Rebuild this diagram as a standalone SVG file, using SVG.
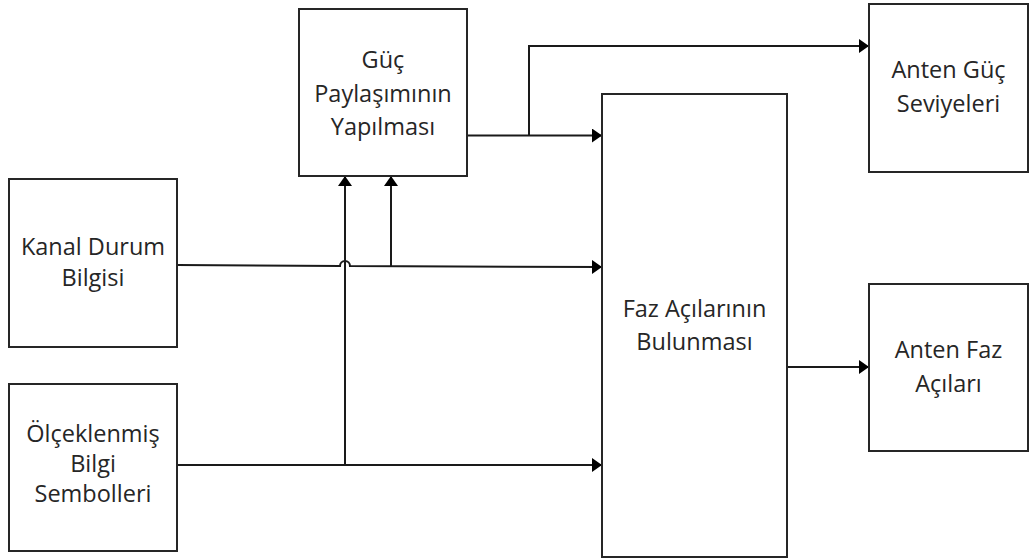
<svg xmlns="http://www.w3.org/2000/svg" width="1029" height="560" viewBox="0 0 1029 560">
  <style>
    .box { fill: #ffffff; stroke: #262626; stroke-width: 2; }
    .lbl { font-family: "Open Sans", "Noto Sans", "DejaVu Sans", sans-serif; font-size: 23.5px; fill: #262626; text-anchor: middle; }
    .wire { fill: none; stroke: #1a1a1a; stroke-width: 2; marker-end: url(#arrow); }
  </style>
  <defs>
    <marker id="arrow" viewBox="0 0 10 14" refX="10" refY="7" markerWidth="10" markerHeight="14" markerUnits="userSpaceOnUse" orient="auto">
      <path d="M0,0 L10,7 L0,14 z" fill="#000000"/>
    </marker>
  </defs>
  <rect width="1029" height="560" fill="#ffffff"/>

  <!-- connectors -->
  <g id="connectors">
    <!-- channel state info into phase block, hopping over the vertical feed -->
    <path class="wire" d="M177,265 L340,266 A5,5 0 0 1 350,266 L602,267"/>
    <!-- scaled symbols into phase block -->
    <path class="wire" d="M177,465 L602,465"/>
    <!-- feeds up into power sharing -->
    <path class="wire" d="M345,465 L345,176"/>
    <path class="wire" d="M391,266 L391,176"/>
    <!-- power sharing output -->
    <path class="wire" d="M467,135.5 L602,135.5"/>
    <path class="wire" d="M529,135.5 L529,46 L869,46"/>
    <!-- phase output -->
    <path class="wire" d="M787,367 L869,367"/>
  </g>

  <g id="guc-paylasimi">
    <rect class="box" x="299" y="9" width="168" height="167"/>
    <text class="lbl" x="383" y="68">Güç</text>
    <text class="lbl" x="383" y="102">Paylaşımının</text>
    <text class="lbl" x="383" y="135">Yapılması</text>
  </g>

  <g id="kanal-durum">
    <rect class="box" x="9" y="179" width="168" height="168"/>
    <text class="lbl" x="93" y="255">Kanal Durum</text>
    <text class="lbl" x="93" y="286">Bilgisi</text>
  </g>

  <g id="olceklenmis">
    <rect class="box" x="9" y="384" width="168" height="167"/>
    <text class="lbl" x="93" y="442">Ölçeklenmiş</text>
    <text class="lbl" x="93" y="472">Bilgi</text>
    <text class="lbl" x="93" y="502">Sembolleri</text>
  </g>

  <g id="faz-acilari">
    <rect class="box" x="602" y="94" width="185" height="463"/>
    <text class="lbl" x="694.5" y="317">Faz Açılarının</text>
    <text class="lbl" x="694.5" y="350">Bulunması</text>
  </g>

  <g id="anten-guc">
    <rect class="box" x="869" y="4" width="159" height="168"/>
    <text class="lbl" x="948.5" y="78">Anten Güç</text>
    <text class="lbl" x="948.5" y="112">Seviyeleri</text>
  </g>

  <g id="anten-faz">
    <rect class="box" x="869" y="284" width="159" height="167"/>
    <text class="lbl" x="948.5" y="358">Anten Faz</text>
    <text class="lbl" x="948.5" y="392">Açıları</text>
  </g>
</svg>
